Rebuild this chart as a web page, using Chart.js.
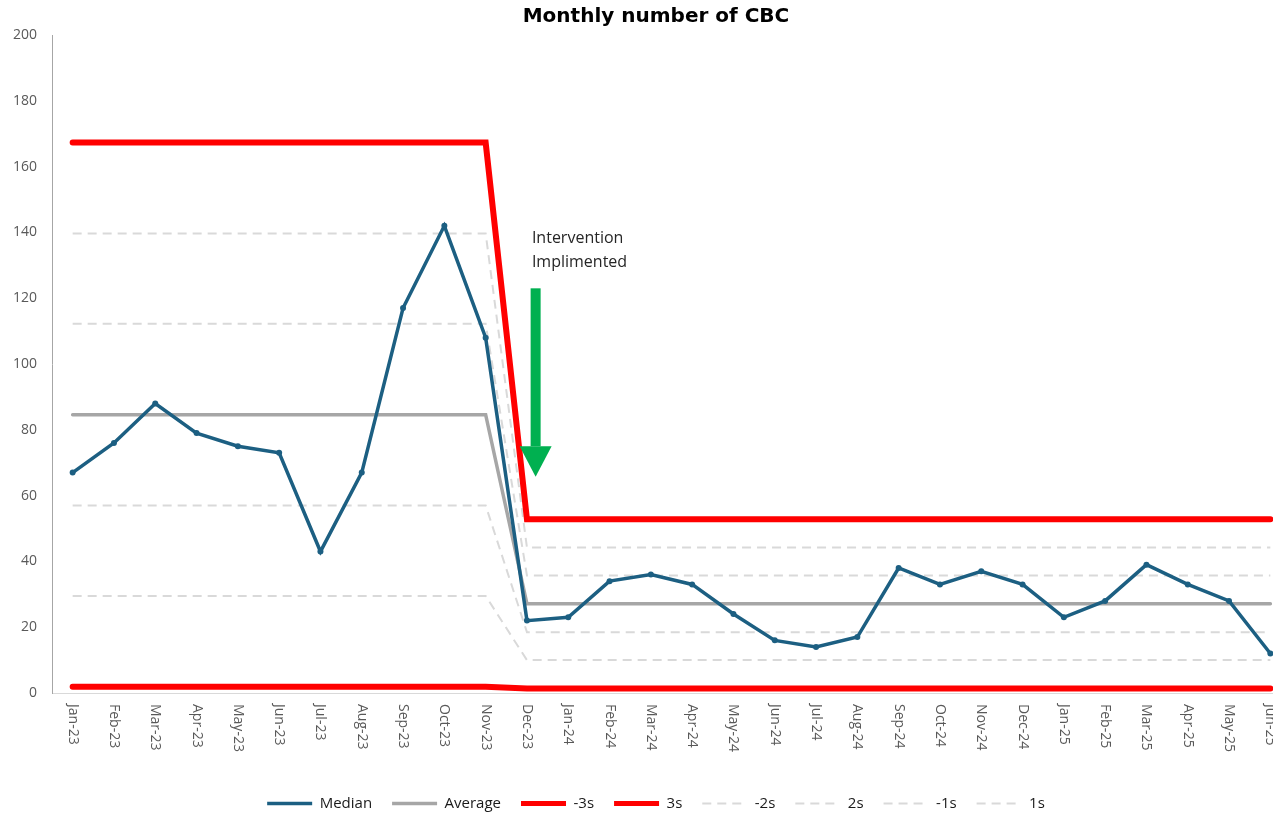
<!DOCTYPE html>
<html>
<head>
<meta charset="utf-8">
<script src="https://cdn.jsdelivr.net/npm/chart.js@4.4.1/dist/chart.umd.min.js"></script>
<style>
  html,body{margin:0;padding:0;background:#fff;overflow:hidden;}
  #wrap{width:1312px;height:821px;}
</style>
</head>
<body>
<div id="wrap"><canvas id="cbc" width="1312" height="821"></canvas></div>
<script>
/* ---- data ---- */
var months=['Jan-23','Feb-23','Mar-23','Apr-23','May-23','Jun-23','Jul-23','Aug-23','Sep-23','Oct-23','Nov-23','Dec-23',
  'Jan-24','Feb-24','Mar-24','Apr-24','May-24','Jun-24','Jul-24','Aug-24','Sep-24','Oct-24','Nov-24','Dec-24',
  'Jan-25','Feb-25','Mar-25','Apr-25','May-25','Jun-25'];
var median=[67,76,88,79,75,73,43,67,117,142,108,22,23,34,36,33,24,16,14,17,38,33,37,33,23,28,39,33,28,12];
var average=[84.6,84.6,84.6,84.6,84.6,84.6,84.6,84.6,84.6,84.6,84.6,
  27.1,27.1,27.1,27.1,27.1,27.1,27.1,27.1,27.1,27.1,27.1,27.1,27.1,27.1,27.1,27.1,27.1,27.1,27.1];
var minus3s=[1.9,1.9,1.9,1.9,1.9,1.9,1.9,1.9,1.9,1.9,1.9,
  1.4,1.4,1.4,1.4,1.4,1.4,1.4,1.4,1.4,1.4,1.4,1.4,1.4,1.4,1.4,1.4,1.4,1.4,1.4];
var plus3s=[167.3,167.3,167.3,167.3,167.3,167.3,167.3,167.3,167.3,167.3,167.3,
  52.8,52.8,52.8,52.8,52.8,52.8,52.8,52.8,52.8,52.8,52.8,52.8,52.8,52.8,52.8,52.8,52.8,52.8,52.8];
var minus2s=[29.5,29.5,29.5,29.5,29.5,29.5,29.5,29.5,29.5,29.5,29.5,
  10.0,10.0,10.0,10.0,10.0,10.0,10.0,10.0,10.0,10.0,10.0,10.0,10.0,10.0,10.0,10.0,10.0,10.0,10.0];
var plus2s=[139.7,139.7,139.7,139.7,139.7,139.7,139.7,139.7,139.7,139.7,139.7,
  44.2,44.2,44.2,44.2,44.2,44.2,44.2,44.2,44.2,44.2,44.2,44.2,44.2,44.2,44.2,44.2,44.2,44.2,44.2];
var minus1s=[57.0,57.0,57.0,57.0,57.0,57.0,57.0,57.0,57.0,57.0,57.0,
  18.5,18.5,18.5,18.5,18.5,18.5,18.5,18.5,18.5,18.5,18.5,18.5,18.5,18.5,18.5,18.5,18.5,18.5,18.5];
var plus1s=[112.2,112.2,112.2,112.2,112.2,112.2,112.2,112.2,112.2,112.2,112.2,
  35.7,35.7,35.7,35.7,35.7,35.7,35.7,35.7,35.7,35.7,35.7,35.7,35.7,35.7,35.7,35.7,35.7,35.7,35.7];
var yTicks={min:0,max:200,step:20};

/* intervention note, in data units (category index / y value) */
var note={lines:['Intervention','Implimented'],textX:11.12,textY:[138.3,131],arrowX:11.21,arrowTop:123,headTop:75,tip:65.7};

/* category axis whose rotated labels read top-to-bottom (clockwise), like Excel */
class DownCategoryScale extends Chart.CategoryScale{
  _computeLabelItems(area){
    var items=super._computeLabelItems(area);
    items.forEach(function(it){
      var t=it.options.translation;
      it.options.rotation=Math.PI/2;
      it.options.textAlign='left';
      it.options.translation=[t[0]+it.font.lineHeight,t[1]];
    });
    return items;
  }
}
DownCategoryScale.id='downCategory';
DownCategoryScale.defaults=Chart.CategoryScale.defaults;
Chart.register(DownCategoryScale);

var notePlugin={
  id:'note',
  afterDatasetsDraw:function(chart){
    var c=chart.ctx,xs=chart.scales.x,ys=chart.scales.y;
    c.save();
    c.font='16px "Open Sans"';c.fillStyle='#262626';c.textBaseline='middle';c.textAlign='left';
    note.lines.forEach(function(l,i){c.fillText(l,xs.getPixelForValue(note.textX),ys.getPixelForValue(note.textY[i]));});
    var ax=xs.getPixelForValue(note.arrowX),top=ys.getPixelForValue(note.arrowTop),
        hd=ys.getPixelForValue(note.headTop),tp=ys.getPixelForValue(note.tip);
    c.fillStyle='#00B050';
    c.fillRect(ax-5,top,10,hd-top);
    c.beginPath();c.moveTo(ax-16,hd);c.lineTo(ax+16,hd);c.lineTo(ax,tp);c.closePath();c.fill();
    c.restore();
  }
};

function ctrl(label,data,col,w,dash){
  return{label:label,data:data,borderColor:col,backgroundColor:col,borderWidth:w,borderDash:dash||[],
    pointRadius:0,pointHoverRadius:0,fill:false,tension:0,borderCapStyle:dash?'butt':'round'};
}

/* legend swatches: a plain line per series, same width and dash as the series */
function legendItems(chart){
  return chart.data.datasets.map(function(d,i){
    return{text:d.label,fillStyle:d.borderColor,strokeStyle:d.borderColor,
      lineWidth:Math.min(d.borderWidth,5),lineDash:d.borderDash||[],lineCap:'butt',
      pointStyle:'line',fontColor:'#1a1a1a',hidden:false,datasetIndex:i};
  });
}

new Chart(document.getElementById('cbc'),{
  type:'line',
  data:{labels:months,datasets:[
    {label:'Median',data:median,borderColor:'#1C5F82',backgroundColor:'#1C5F82',borderWidth:3.5,
      pointRadius:3,pointBorderWidth:0,pointBackgroundColor:'#1C5F82',tension:0,fill:false},
    ctrl('Average',average,'#A6A6A6',3.5),
    ctrl('-3s',minus3s,'#FF0000',6),
    ctrl('3s',plus3s,'#FF0000',6),
    ctrl('-2s',minus2s,'#D9D9D9',2,[9,6]),
    ctrl('2s',plus2s,'#D9D9D9',2,[9,6]),
    ctrl('-1s',minus1s,'#D9D9D9',2,[9,6]),
    ctrl('1s',plus1s,'#D9D9D9',2,[9,6])
  ]},
  options:{
    responsive:false,animation:false,devicePixelRatio:1,
    layout:{padding:0},
    plugins:{
      title:{display:true,text:'Monthly number of CBC',color:'#000',
        font:{family:'"DejaVu Sans"',size:20,weight:'bold'},padding:{top:5,bottom:6}},
      legend:{position:'bottom',
        labels:{usePointStyle:true,pointStyle:'line',pointStyleWidth:45,padding:20,color:'#1a1a1a',
          font:{family:'"Open Sans"',size:15},generateLabels:legendItems}},
      tooltip:{enabled:false}
    },
    scales:{
      x:{type:'downCategory',offset:true,
        grid:{display:false,drawTicks:false},border:{display:true,color:'#D9D9D9',width:1},
        ticks:{autoSkip:false,minRotation:90,maxRotation:90,padding:11,color:'#595959',
          font:{family:'"Open Sans"',size:14}},
        afterFit:function(s){s.height=83;}},
      y:{min:yTicks.min,max:yTicks.max,
        grid:{display:false,drawTicks:false},border:{display:true,color:'#A6A6A6',width:1},
        ticks:{stepSize:yTicks.step,padding:15,color:'#595959',font:{family:'"Open Sans"',size:14}},
        afterFit:function(s){s.width=52;}},
      /* empty right-hand strip: the plot runs past the photographed edge as in the reference */
      yR:{position:'right',min:yTicks.min,max:yTicks.max,
        grid:{display:false,drawTicks:false},border:{display:false},ticks:{display:false},
        afterFit:function(s){s.width=21;}}
    }
  },
  plugins:[notePlugin]
});
</script>
</body>
</html>
